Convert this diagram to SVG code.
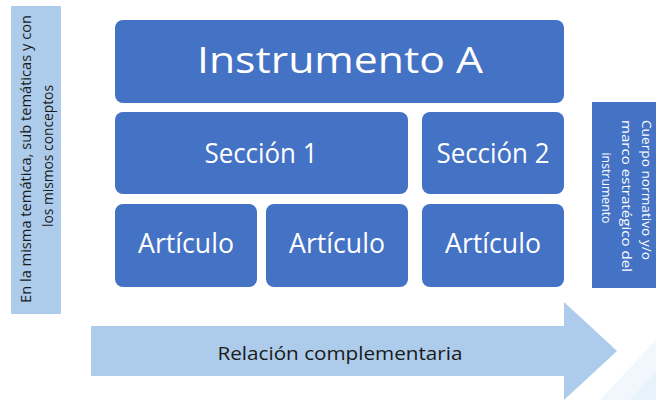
<svg xmlns="http://www.w3.org/2000/svg" width="656" height="400" viewBox="0 0 656 400">
<style>
.box{fill:#4472c4;}
.light{fill:#adcbea;}
.wt{fill:#ffffff;font-family:"Open Sans","Liberation Sans",sans-serif;text-anchor:middle;}
.dk{fill:#1a1a1a;font-family:"Open Sans","Liberation Sans",sans-serif;text-anchor:middle;}
</style>
<rect width="656" height="400" fill="#ffffff"/>
<g id="decor">
<polygon points="600,400 656,340 656,400" fill="#f1f7fc"/>
<polygon points="630,400 656,372 656,400" fill="#e8f2fa"/>
</g>
<g id="left-label">
<rect class="light" x="11" y="6" width="50" height="308"/>
<text class="dk" font-size="14" transform="rotate(-90 31 159)" x="31" y="159" textLength="288" lengthAdjust="spacingAndGlyphs">En la misma temática, sub temáticas y con</text>
<text class="dk" font-size="14" transform="rotate(-90 53 156)" x="53" y="156" textLength="142" lengthAdjust="spacingAndGlyphs">los mismos conceptos</text>
</g>
<g id="instrumento">
<rect class="box" x="115" y="20" width="449" height="83" rx="8"/>
<text class="wt" x="340" y="73" font-size="37" textLength="286" lengthAdjust="spacingAndGlyphs">Instrumento A</text>
</g>
<g id="seccion1">
<rect class="box" x="115" y="112" width="293" height="82" rx="8"/>
<text class="wt" x="261" y="163" font-size="27" textLength="113" lengthAdjust="spacingAndGlyphs">Sección 1</text>
</g>
<g id="seccion2">
<rect class="box" x="422" y="112" width="142" height="82" rx="8"/>
<text class="wt" x="493" y="163" font-size="27" textLength="113" lengthAdjust="spacingAndGlyphs">Sección 2</text>
</g>
<g id="articulo1">
<rect class="box" x="115" y="204" width="142" height="83" rx="8"/>
<text class="wt" x="186" y="253" font-size="27" textLength="96" lengthAdjust="spacingAndGlyphs">Artículo</text>
</g>
<g id="articulo2">
<rect class="box" x="266" y="204" width="142" height="83" rx="8"/>
<text class="wt" x="337" y="253" font-size="27" textLength="96" lengthAdjust="spacingAndGlyphs">Artículo</text>
</g>
<g id="articulo3">
<rect class="box" x="422" y="204" width="142" height="83" rx="8"/>
<text class="wt" x="493" y="253" font-size="27" textLength="96" lengthAdjust="spacingAndGlyphs">Artículo</text>
</g>
<g id="right-label">
<rect class="box" x="592" y="102" width="70" height="186"/>
<text class="wt" font-size="12.5" transform="rotate(90 642 190)" x="642" y="190" textLength="140" lengthAdjust="spacingAndGlyphs">Cuerpo normativo y/o</text>
<text class="wt" font-size="12.5" transform="rotate(90 622 196)" x="622" y="196" textLength="152" lengthAdjust="spacingAndGlyphs">marco  estratégico del</text>
<text class="wt" font-size="12.5" transform="rotate(90 602 188)" x="602" y="188" textLength="71" lengthAdjust="spacingAndGlyphs">instrumento</text>
</g>
<g id="connectors">
<polygon class="light" points="91,326 564,326 564,302 617,351 564,400 564,376 91,376"/>
<text class="dk" x="340" y="360" font-size="18" textLength="245" lengthAdjust="spacingAndGlyphs">Relación complementaria</text>
</g>
</svg>
